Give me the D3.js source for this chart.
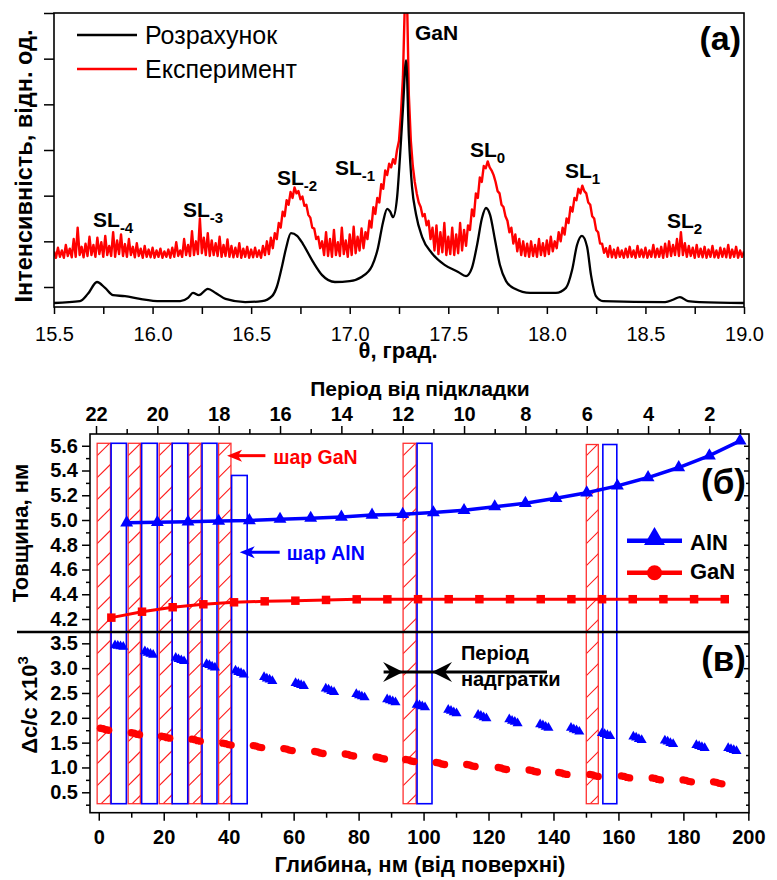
<!DOCTYPE html>
<html><head><meta charset="utf-8">
<script src="https://cdn.jsdelivr.net/npm/d3@7"></script>
<style>body{margin:0;background:#fff}svg{display:block}</style>
</head><body><svg id="c" width="777" height="880"></svg>
<script>
// ---------- DATA ----------
// Panel (a): calculated curve (theta, intensity a.u.)
const calcTheta = [15.50,15.632,15.672,15.718,15.759,15.80,15.86,15.936,16.04,16.14,16.18,16.205,16.235,16.28,16.32,16.37,16.47,16.555,16.606,16.63,16.657,16.677,16.702,16.733,16.763,16.814,16.86,16.925,17.0,17.06,17.113,17.143,17.169,17.19,17.204,17.22,17.24,17.255,17.27,17.286,17.30,17.316,17.336,17.367,17.417,17.483,17.55,17.59,17.62,17.646,17.671,17.691,17.712,17.737,17.762,17.793,17.838,17.915,18.046,18.097,18.128,18.153,18.178,18.204,18.224,18.249,18.285,18.60,18.64,18.675,18.716,18.777,19.0];
const calcInt = [-0.35,-0.31,-0.15,0.11,-0.02,-0.18,-0.20,-0.26,-0.31,-0.31,-0.24,-0.13,-0.18,-0.04,-0.13,-0.26,-0.33,-0.31,-0.20,0.0,0.46,0.85,1.18,1.12,0.94,0.55,0.26,0.11,0.13,0.22,0.46,0.85,1.42,1.71,1.66,1.53,1.95,2.85,3.90,4.97,3.30,2.20,1.60,1.10,0.74,0.48,0.33,0.24,0.42,0.92,1.51,1.73,1.58,1.03,0.48,0.13,-0.04,-0.13,-0.13,-0.02,0.37,0.92,1.12,0.88,0.26,-0.20,-0.31,-0.33,-0.28,-0.22,-0.31,-0.33,-0.35];
// Panel (a): experimental scan, uniform step 0.01 deg from 15.50 to 19.00
const expStart = 15.50, expStep = 0.01;
const expInt = [
0.78,0.64,0.86,0.66,0.80,0.64,0.92,0.68,0.84,0.65,
1.05,0.66,1.30,0.70,0.88,0.65,0.95,0.68,1.10,0.70,
0.92,0.66,1.08,0.72,0.98,0.66,1.12,0.70,0.90,0.68,
1.20,0.66,1.02,0.72,1.15,0.68,0.94,0.66,1.05,0.70,
0.88,0.65,0.96,0.68,0.84,0.64,0.90,0.66,0.82,0.65,
0.86,0.64,0.80,0.66,0.84,0.64,0.78,0.66,0.82,0.64,
0.86,0.66,0.98,0.68,0.80,0.66,1.05,0.70,0.92,0.68,
1.22,0.70,1.00,0.72,1.50,0.74,1.08,0.70,1.18,0.68,
1.02,0.70,0.96,0.68,1.10,0.66,0.92,0.68,1.04,0.66,
0.90,0.65,0.86,0.66,0.96,0.64,0.84,0.66,0.88,0.64,
0.82,0.65,0.86,0.66,0.80,0.64,0.90,0.70,1.00,0.72,
1.08,0.85,1.18,1.05,1.40,1.30,1.65,1.55,1.90,1.80,
2.08,1.95,2.18,2.05,2.10,1.92,1.98,1.78,1.80,1.58,
1.52,1.30,1.28,1.05,1.10,0.85,1.00,0.70,1.20,0.68,
1.05,0.66,1.25,0.70,0.98,0.68,1.30,0.72,1.02,0.66,
1.15,0.70,1.32,0.74,1.10,0.80,1.28,0.85,1.20,1.05,
1.45,1.30,1.75,1.60,1.95,1.85,2.25,2.15,2.55,2.45,
2.70,2.62,2.80,2.70,3.00,3.20,3.80,4.60,6.30,6.50,
4.20,3.20,2.65,2.30,2.05,1.85,1.75,1.55,1.60,1.35,
1.45,1.05,1.30,0.80,1.35,0.72,1.20,0.76,1.40,0.70,
1.10,0.72,1.30,0.70,1.15,0.74,1.40,0.80,1.25,0.90,
1.35,1.25,1.70,1.55,2.05,1.95,2.40,2.30,2.65,2.60,
2.75,2.62,2.55,2.45,2.30,2.10,2.05,1.80,1.75,1.55,
1.45,1.20,1.30,0.95,1.15,0.78,1.05,0.70,1.00,0.68,
0.95,0.66,1.00,0.68,0.92,0.66,1.05,0.70,0.96,0.68,
1.02,0.72,1.10,0.78,1.00,0.85,1.20,1.00,1.30,1.15,
1.50,1.40,1.75,1.65,1.95,1.90,2.15,2.05,2.22,2.10,
2.05,1.85,1.80,1.55,1.50,1.25,1.20,0.95,0.95,0.75,
0.85,0.66,0.90,0.65,0.82,0.64,0.86,0.66,0.80,0.64,
0.84,0.65,0.88,0.66,0.80,0.64,0.90,0.66,0.82,0.65,
0.86,0.64,0.80,0.66,0.92,0.65,0.84,0.66,0.88,0.64,
0.95,0.66,1.00,0.68,0.92,0.70,1.05,0.68,1.20,0.70,
0.96,0.66,0.90,0.68,0.86,0.64,0.92,0.66,0.84,0.65,
0.88,0.64,0.82,0.66,0.90,0.65,0.80,0.64,0.86,0.66,
0.84,0.65,0.92,0.64,0.82,0.66,0.88,0.64,0.80,0.66,
0.78];
const thetaTicks = [15.5,16.0,16.5,17.0,17.5,18.0,18.5,19.0];
const thetaMinor = [15.75,16.25,16.75,17.25,17.75,18.25,18.75];
const peakNames = ["SL","SL","SL","SL","GaN","SL","SL","SL"];
const peakSubs  = ["-4","-3","-2","-1","","0","1","2"];
const peakTheta = [15.698,16.154,16.631,16.925,17.331,17.610,18.092,18.609];
const peakLevel = [1.314,1.533,2.233,2.452,5.408,2.846,2.387,1.292];

// Panel (b): layer thickness vs period number (from substrate)
const alnPeriod = [21,20,19,18,17,16,15,14,13,12,11,10,9,8,7,6,5,4,3,2,1];
const alnThick  = [4.978,4.981,4.985,4.991,4.996,5.007,5.015,5.025,5.04,5.046,5.06,5.078,5.108,5.135,5.175,5.22,5.276,5.343,5.424,5.52,5.64];
const ganPeriod = [21.5,20.5,19.5,18.5,17.5,16.5,15.5,14.5,13.5,12.5,11.5,10.5,9.5,8.5,7.5,6.5,5.5,4.5,3.5,2.5,1.5];
const ganThick  = [4.211,4.259,4.295,4.319,4.335,4.343,4.348,4.354,4.359,4.359,4.36,4.36,4.36,4.36,4.36,4.36,4.36,4.36,4.36,4.36,4.36];
const periodTicks = [22,20,18,16,14,12,10,8,6,4,2];
const periodMinor = [21,19,17,15,13,11,9,7,5,3,1];

// Panel (c): strain dc/c x10^3 vs depth; markers per layer
const markerStep = 0.85;
const alnStrainStart = [5.0,14.2,23.7,33.2,42.1,50.9,60.6,69.9,79.3,88.8,97.9,107.6,116.8,126.4,135.9,145.4,154.9,164.6,174.3,184.0,193.8];
const alnStrain = [[3.46,3.45,3.44,3.43],[3.34,3.31,3.29,3.27],[3.21,3.18,3.16,3.14],[3.08,3.06,3.03,3.01],[2.95,2.92,2.90,2.87],
[2.82,2.79,2.77,2.74],[2.70,2.68,2.66,2.64],[2.59,2.57,2.54,2.52],[2.48,2.45,2.43,2.41],[2.37,2.35,2.33,2.31],
[2.26,2.25,2.23,2.21],[2.16,2.14,2.11,2.09],[2.06,2.04,2.01,1.99],[1.97,1.94,1.92,1.89],[1.87,1.85,1.82,1.80],
[1.80,1.77,1.75,1.72],[1.69,1.67,1.65,1.63],[1.62,1.60,1.57,1.55],[1.54,1.52,1.49,1.47],[1.45,1.43,1.41,1.39],[1.39,1.37,1.35,1.33]];
const ganStrainStart = [0.5,10.0,19.3,28.7,38.2,47.6,57.0,66.5,75.9,85.4,94.5,103.9,113.3,123.0,132.5,141.6,151.2,160.9,170.4,179.9,189.3];
const ganStrain = [[1.79,1.78,1.76,1.75],[1.70,1.69,1.67,1.66],[1.63,1.62,1.60,1.59],[1.57,1.56,1.54,1.53],[1.49,1.48,1.46,1.45],
[1.44,1.43,1.41,1.40],[1.38,1.37,1.35,1.34],[1.32,1.31,1.29,1.28],[1.27,1.26,1.24,1.23],[1.21,1.20,1.18,1.17],
[1.16,1.15,1.13,1.12],[1.10,1.09,1.07,1.06],[1.06,1.05,1.03,1.02],[1.00,0.99,0.97,0.96],[0.95,0.94,0.92,0.91],
[0.90,0.89,0.87,0.86],[0.86,0.85,0.83,0.82],[0.83,0.82,0.80,0.79],[0.79,0.78,0.76,0.75],[0.75,0.74,0.72,0.71],[0.71,0.70,0.68,0.67]];
const depthTicks = [0,20,40,60,80,100,120,140,160,180,200];
const depthMinor = [10,30,50,70,90,110,130,150,170,190];
const thickTicks = [4.2,4.4,4.6,4.8,5.0,5.2,5.4,5.6];
const thickMinor = [4.1,4.3,4.5,4.7,4.9,5.1,5.3,5.5];
const strainTicks = [0.5,1.0,1.5,2.0,2.5,3.0,3.5];
const strainMinor = [0.25,0.75,1.25,1.75,2.25,2.75,3.25];

// Layer boxes (depth ranges, nm)
const ganLayerStart = [-0.5,9.05,18.6,27.7,36.9,93.7,150.1];
const ganLayerEnd   = [3.6,12.8,22.6,31.5,40.7,97.7,153.8];
const ganLayerTop   = [5.62,5.62,5.62,5.62,5.62,5.62,5.61];
const alnLayerStart = [3.8,13.2,22.6,31.8,40.9,98.0,155.2];
const alnLayerEnd   = [8.5,18.0,27.4,36.4,45.7,102.6,159.5];
const alnLayerTop   = [5.62,5.62,5.62,5.62,5.36,5.62,5.61];
const layerBottom = 0.27;

// ---------- DRAW ----------
const FONT = '"Liberation Sans", Arial, Helvetica, sans-serif';
const svg = d3.select("#c").attr("font-family", FONT);
const defs = svg.append("defs");

function styleAxis(g, size, bold){
  g.select(".domain").remove();
  g.attr("font-family", FONT).attr("font-size", size).attr("font-weight", bold ? "bold" : "normal");
  g.selectAll("line").attr("stroke","#000").attr("stroke-width",1.5);
  g.selectAll("text").attr("fill","#000");
}

// ===== Panel (a) =====
const xA = d3.scaleLinear().domain([15.5,19]).range([54,744]);
const yA = d3.scaleLinear().domain([-0.438,6]).range([307,13]);
defs.append("clipPath").attr("id","clipA").append("rect")
  .attr("x",xA.range()[0]).attr("y",yA.range()[1]).attr("width",xA.range()[1]-xA.range()[0]).attr("height",yA.range()[0]-yA.range()[1]);

const expPts = expInt.map((v,i)=>[expStart+i*expStep, v]);
svg.append("path").datum(expPts).attr("clip-path","url(#clipA)")
  .attr("fill","none").attr("stroke","#ff0000").attr("stroke-width",2.4).attr("stroke-linejoin","round")
  .attr("d", d3.line().x(d=>xA(d[0])).y(d=>yA(d[1])));
const calcPts = calcTheta.map((t,i)=>[t, calcInt[i]]);
svg.append("path").datum(calcPts).attr("clip-path","url(#clipA)")
  .attr("fill","none").attr("stroke","#000").attr("stroke-width",2.3)
  .attr("d", d3.line().curve(d3.curveMonotoneX).x(d=>xA(d[0])).y(d=>yA(d[1])));

svg.append("rect").attr("x",54).attr("y",13).attr("width",690).attr("height",294)
  .attr("fill","none").attr("stroke","#000").attr("stroke-width",1.6);

let g = svg.append("g").attr("transform","translate(0,307)")
  .call(d3.axisBottom(xA).tickValues(thetaTicks).tickSize(7).tickFormat(d3.format(".1f")));
styleAxis(g, 20, false);
g.selectAll("text").attr("dy",null).attr("y",34);
g = svg.append("g").attr("transform","translate(0,307)")
  .call(d3.axisBottom(xA).tickValues(thetaMinor).tickSize(7).tickFormat(""));
styleAxis(g, 20, false);
g = svg.append("g").attr("transform","translate(54,0)")
  .call(d3.axisLeft(yA).tickValues([0,1,2,3,4,5,6]).tickSize(10).tickFormat(""));
styleAxis(g, 20, false);

svg.append("text").attr("x",398).attr("y",358).attr("text-anchor","middle")
  .attr("font-size",22).attr("font-weight","bold").text("θ, град.");
svg.append("text").attr("transform","translate(32,166) rotate(-90)").attr("text-anchor","middle")
  .attr("font-size",23.5).attr("font-weight","bold").text("Інтенсивність, відн. од.");

// legend (a)
svg.append("line").attr("x1",77).attr("x2",137).attr("y1",35).attr("y2",35).attr("stroke","#000").attr("stroke-width",2.5);
svg.append("text").attr("x",145).attr("y",44).attr("font-size",25).text("Розрахунок");
svg.append("line").attr("x1",77).attr("x2",137).attr("y1",69).attr("y2",69).attr("stroke","#ff0000").attr("stroke-width",2.5);
svg.append("text").attr("x",145).attr("y",78).attr("font-size",25).text("Експеримент");
svg.append("text").attr("x",741).attr("y",50).attr("text-anchor","end").attr("font-size",34).attr("font-weight","bold").text("(а)");

// peak labels
peakNames.forEach((n,i)=>{
  const t = svg.append("text").attr("x",xA(peakTheta[i])).attr("y",yA(peakLevel[i]))
    .attr("font-size",21).attr("font-weight","bold").text(n);
  if(peakSubs[i]) t.append("tspan").attr("font-size",15).attr("dy",6).text(peakSubs[i]);
});

// ===== Panels (б) and (в) =====
const X0 = 90, X1 = 749;
const xP = d3.scaleLinear().domain([22.196,0.709]).range([X0,X1]);
const xD = d3.scaleLinear().domain([-2.7,200.2]).range([X0,X1]);
const yB = d3.scaleLinear().domain([4.095,5.695]).range([632,434]);
const yC = d3.scaleLinear().domain([0.089,3.728]).range([812.7,632]);

// layer boxes
const layers = [];
ganLayerStart.forEach((s,i)=>layers.push({s, e:ganLayerEnd[i], top:ganLayerTop[i], type:"gan", id:"g"+i}));
alnLayerStart.forEach((s,i)=>layers.push({s, e:alnLayerEnd[i], top:alnLayerTop[i], type:"aln", id:"a"+i}));
const gl = svg.append("g");
layers.forEach(d=>{
  const x0 = xD(d.s), x1 = xD(d.e), y0 = yB(d.top), y1 = yC(layerBottom);
  if(d.type==="gan"){
    defs.append("clipPath").attr("id","clip"+d.id).append("rect")
      .attr("x",x0).attr("y",y0).attr("width",x1-x0).attr("height",y1-y0);
    const hg = gl.append("g").attr("clip-path",`url(#clip${d.id})`);
    const w = x1-x0;
    for(let yy = y1 + 4; yy > y0 - w; yy -= 22){
      hg.append("line").attr("x1",x0).attr("y1",yy).attr("x2",x0+w+2).attr("y2",yy-w-2)
        .style("stroke","#ff1a1a").style("stroke-width","1.1");
    }
  }
  gl.append("rect").attr("x",x0).attr("width",x1-x0).attr("y",y0).attr("height",y1-y0)
    .style("fill","none").style("stroke", d.type==="gan" ? "#ff3030" : "#0000ff")
    .style("stroke-width", d.type==="gan" ? "1.3" : "1.6");
});

// frame
svg.append("rect").attr("x",X0).attr("y",434).attr("width",X1-X0).attr("height",812.7-434)
  .attr("fill","none").attr("stroke","#000").attr("stroke-width",1.6);
svg.append("line").attr("x1",17).attr("x2",X1).attr("y1",632).attr("y2",632).attr("stroke","#000").attr("stroke-width",2.4);

// (b) data
svg.append("path").datum(ganPeriod.map((p,i)=>[p,ganThick[i]]))
  .attr("fill","none").attr("stroke","#ff0000").attr("stroke-width",3)
  .attr("d", d3.line().x(d=>xP(d[0])).y(d=>yB(d[1])));
svg.append("g").selectAll("path").data(ganPeriod.map((p,i)=>[p,ganThick[i]])).join("path")
  .attr("transform",d=>`translate(${xP(d[0])},${yB(d[1])})`)
  .attr("d", d3.symbol(d3.symbolSquare, 72)).attr("fill","#ff0000");
svg.append("path").datum(alnPeriod.map((p,i)=>[p,alnThick[i]]))
  .attr("fill","none").attr("stroke","#0000ff").attr("stroke-width",3.5)
  .attr("d", d3.line().x(d=>xP(d[0])).y(d=>yB(d[1])));
svg.append("g").selectAll("path").data(alnPeriod.map((p,i)=>[p,alnThick[i]])).join("path")
  .attr("transform",d=>`translate(${xP(d[0])},${yB(d[1])})`)
  .attr("d", d3.symbol(d3.symbolTriangle, 72)).attr("fill","#0000ff");

// (c) data
const ganPts = [], alnPts = [];
ganStrain.forEach((arr,i)=>arr.forEach((v,j)=>ganPts.push([ganStrainStart[i]+j*markerStep, v])));
alnStrain.forEach((arr,i)=>arr.forEach((v,j)=>alnPts.push([alnStrainStart[i]+j*markerStep, v])));
svg.append("g").selectAll("circle").data(ganPts).join("circle")
  .attr("cx",d=>xD(d[0])).attr("cy",d=>yC(d[1])).attr("r",3.7).attr("fill","#ff0000");
svg.append("g").selectAll("path").data(alnPts).join("path")
  .attr("transform",d=>`translate(${xD(d[0])},${yC(d[1])})`)
  .attr("d", d3.symbol(d3.symbolTriangle, 44)).attr("fill","#0000ff");

// axes (b)/(c)
g = svg.append("g").attr("transform","translate(0,434)")
  .call(d3.axisTop(xP).tickValues(periodTicks).tickSize(8).tickFormat(d3.format("d")));
styleAxis(g, 20, true); g.selectAll("text").attr("dy",null).attr("y",-13);
g = svg.append("g").attr("transform","translate(0,434)")
  .call(d3.axisTop(xP).tickValues(periodMinor).tickSize(5).tickFormat(""));
styleAxis(g, 20, true);

g = svg.append("g").attr("transform","translate(0,812.7)")
  .call(d3.axisBottom(xD).tickValues(depthTicks).tickSize(8).tickFormat(d3.format("d")));
styleAxis(g, 20, true); g.selectAll("text").attr("dy",null).attr("y",31);
g = svg.append("g").attr("transform","translate(0,812.7)")
  .call(d3.axisBottom(xD).tickValues(depthMinor).tickSize(5).tickFormat(""));
styleAxis(g, 20, true);

function yAxes(scale, major, minor, fmt){
  let a = svg.append("g").attr("transform",`translate(${X0},0)`)
    .call(d3.axisLeft(scale).tickValues(major).tickSize(8).tickPadding(4).tickFormat(fmt));
  styleAxis(a, 20, true); a.selectAll("text").attr("x",-12);
  a = svg.append("g").attr("transform",`translate(${X0},0)`)
    .call(d3.axisLeft(scale).tickValues(minor).tickSize(4).tickFormat(""));
  styleAxis(a, 20, true);
  a = svg.append("g").attr("transform",`translate(${X1},0)`)
    .call(d3.axisRight(scale).tickValues(major).tickSize(-5).tickFormat(""));
  styleAxis(a, 20, true);
  a = svg.append("g").attr("transform",`translate(${X1},0)`)
    .call(d3.axisRight(scale).tickValues(minor).tickSize(-3).tickFormat(""));
  styleAxis(a, 20, true);
}
yAxes(yB, thickTicks, thickMinor, d3.format(".1f"));
yAxes(yC, strainTicks, strainMinor, d3.format(".1f"));

// axis titles
svg.append("text").attr("x",420).attr("y",396).attr("text-anchor","middle")
  .attr("font-size",21).attr("font-weight","bold").text("Період від підкладки");
svg.append("text").attr("x",420).attr("y",872).attr("text-anchor","middle")
  .attr("font-size",22).attr("font-weight","bold").text("Глибина, нм (від поверхні)");
svg.append("text").attr("transform","translate(28,533) rotate(-90)").attr("text-anchor","middle")
  .attr("font-size",22).attr("font-weight","bold").text("Товщина, нм");
const tc = svg.append("text").attr("transform","translate(37,705) rotate(-90)").attr("text-anchor","middle")
  .attr("font-size",22).attr("font-weight","bold").text("Δc/c x10");
tc.append("tspan").attr("font-size",15).attr("dy",-9).text("3");

svg.append("text").attr("x",746).attr("y",494).attr("text-anchor","end").attr("font-size",35).attr("font-weight","bold").text("(б)");
svg.append("text").attr("x",746).attr("y",671).attr("text-anchor","end").attr("font-size",35).attr("font-weight","bold").text("(в)");

// legend (b)
svg.append("line").attr("x1",627).attr("x2",682).attr("y1",540.7).attr("y2",540.7).attr("stroke","#0000ff").attr("stroke-width",4.5);
svg.append("path").attr("transform","translate(654.5,539)").attr("d",d3.symbol(d3.symbolTriangle,190)).attr("fill","#0000ff");
svg.append("text").attr("x",690).attr("y",550).attr("font-size",22).attr("font-weight","bold").text("AlN");
svg.append("line").attr("x1",627).attr("x2",682).attr("y1",572.7).attr("y2",572.7).attr("stroke","#ff0000").attr("stroke-width",4.5);
svg.append("circle").attr("cx",654.5).attr("cy",572.7).attr("r",7.5).attr("fill","#ff0000");
svg.append("text").attr("x",690).attr("y",579).attr("font-size",22).attr("font-weight","bold").text("GaN");

// arrows
function arrowHead(tx, ty, dir, color, L, W, n){
  const p = [[tx,ty],[tx-dir*L,ty-W],[tx-dir*(L-n),ty],[tx-dir*L,ty+W]];
  svg.append("path").attr("d","M"+p.map(q=>q.join(",")).join("L")+"Z").attr("fill",color);
}
// шар GaN
let ty = yB(5.52), tx = xD(39.5);
svg.append("line").attr("x1",tx+8).attr("x2",xD(51.3)).attr("y1",ty).attr("y2",ty).attr("stroke","#ff0000").attr("stroke-width",3);
arrowHead(tx, ty, -1, "#ff0000", 15, 6, 4);
svg.append("text").attr("x",xD(53.7)).attr("y",yB(5.456)).attr("font-size",19.5).attr("font-weight","bold").attr("fill","#ff0000").text("шар GaN");
// шар AlN
ty = yB(4.74); tx = xD(43.4);
svg.append("line").attr("x1",tx+8).attr("x2",xD(55.7)).attr("y1",ty).attr("y2",ty).attr("stroke","#0000ff").attr("stroke-width",3);
arrowHead(tx, ty, -1, "#0000ff", 15, 6, 4);
svg.append("text").attr("x",xD(57.9)).attr("y",yB(4.68)).attr("font-size",19.5).attr("font-weight","bold").attr("fill","#0000ff").text("шар AlN");
// Період надгратки (double arrow)
ty = yC(2.92);
svg.append("line").attr("x1",xD(87.7)).attr("x2",xD(138.0)).attr("y1",ty).attr("y2",ty).attr("stroke","#000").attr("stroke-width",3);
arrowHead(xD(ganLayerStart[5]), ty, 1, "#000", 20, 10, 7);
arrowHead(xD(alnLayerEnd[5]), ty, -1, "#000", 20, 10, 7);
svg.append("text").attr("x",xD(111.5)).attr("y",yC(3.16)).attr("font-size",20).attr("font-weight","bold").text("Період");
svg.append("text").attr("x",xD(111.5)).attr("y",yC(2.64)).attr("font-size",20).attr("font-weight","bold").text("надгратки");
</script></body></html>
